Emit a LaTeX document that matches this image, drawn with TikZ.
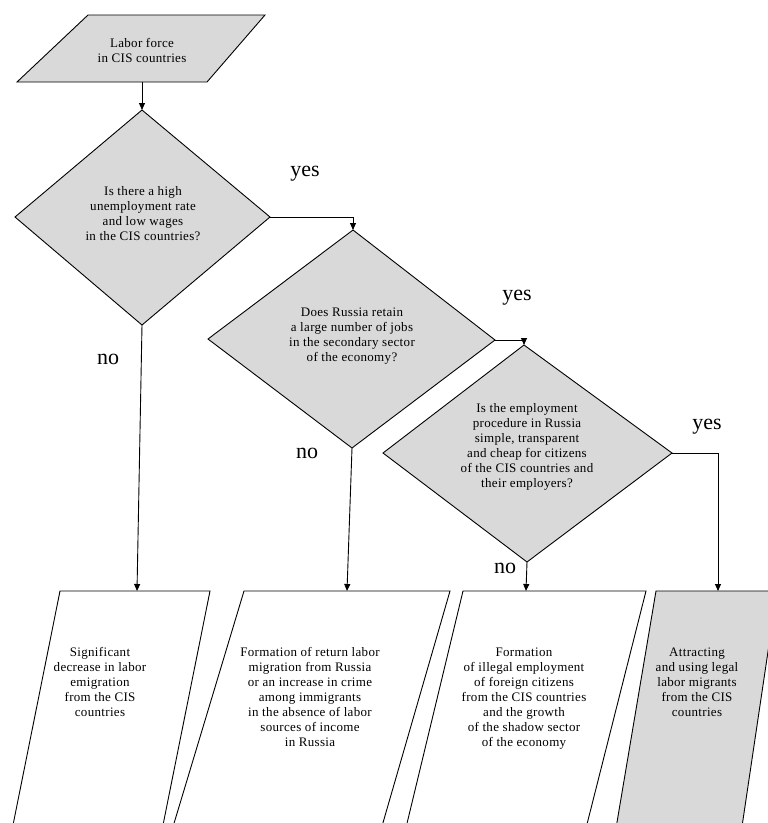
\documentclass[tikz,border=0pt]{standalone}
\usepackage{xcolor}
\usepackage{fontspec}
\setmainfont{Liberation Serif}
\newfontfamily\boxfont[LetterSpace=2.5]{Liberation Serif}
\usetikzlibrary{arrows.meta}
\definecolor{shapegray}{RGB}{217,217,217}

\begin{document}
\begin{tikzpicture}[x=1pt,y=-1pt,line width=0.9pt,
  txt/.style={align=center,inner sep=0pt,font=\boxfont\fontsize{13}{15}\selectfont},
  answer/.style={inner sep=0pt,font=\fontsize{22}{24}\selectfont},
  flow/.style={-{Triangle[length=7pt,width=6pt]}}]
          \useasboundingbox (0,0) rectangle (768,823);
          \clip (0,0) rectangle (768,823);

          % start block
          \coordinate (Lt) at (88,15);
          \coordinate (Rt) at (265,15);
          \coordinate (Rb) at (207,82);
          \coordinate (Lb) at (17,82);
          \coordinate (out0) at (142,82);
          \draw[fill=shapegray] (Lt) -- (Rt) -- (Rb) -- (Lb) -- cycle;
          \node[txt] (labor) at (142,50) {Labor force\\in CIS countries};

          % decisions
          \coordinate (D1t) at (142,110);
          \coordinate (D1l) at (15,217);
          \coordinate (D1r) at (270,217);
          \coordinate (D1b) at (142,325);
          \draw[fill=shapegray] (D1t) -- (D1r) -- (D1b) -- (D1l) -- cycle;
          \node[txt] (unempl) at (143,214) {Is there a high\\unemployment rate\\and low wages\\in the CIS countries?};

          \coordinate (D2t) at (353,230);
          \coordinate (D2l) at (208,339);
          \coordinate (D2r) at (495,340);
          \coordinate (D2b) at (352,448);
          \draw[fill=shapegray] (D2t) -- (D2r) -- (D2b) -- (D2l) -- cycle;
          \node[txt] (jobs) at (352,336) {Does Russia retain\\a large number of jobs\\in the secondary sector\\of the economy?};

          \coordinate (D3t) at (524,345);
          \coordinate (D3l) at (383,453);
          \coordinate (D3r) at (672,453);
          \coordinate (D3b) at (527,562);
          \draw[fill=shapegray] (D3t) -- (D3r) -- (D3b) -- (D3l) -- cycle;
          \node[txt] (procedure) at (527,447) {Is the employment\\procedure in Russia\\simple, transparent\\and cheap for citizens\\of the CIS countries and\\their employers?};

          % outcomes
          \draw (60,591) -- (210,591) -- (160,840) -- (10,840) -- cycle;
          \draw (244,591) -- (450,591) -- (378,840) -- (169,840) -- cycle;
          \draw (463,591) -- (646,591) -- (583,840) -- (403,840) -- cycle;
          \draw[fill=shapegray] (656,591) -- (777,591) -- (740,840) -- (614,840) -- cycle;
          \coordinate (in1) at (137,591);
          \coordinate (in2) at (347,591);
          \coordinate (in3) at (526,591);
          \coordinate (in4) at (718,591);
          \node[txt,anchor=north] (decrease) at (100,647) {Significant\\decrease in labor\\emigration\\from the CIS\\countries};
          \node[txt,anchor=north] (returnmig) at (310,647) {Formation of return labor\\migration from Russia\\or an increase in crime\\among immigrants\\in the absence of labor\\sources of income\\in Russia};
          \node[txt,anchor=north] (illegal) at (524,647) {Formation\\of illegal employment\\of foreign citizens\\from the CIS countries\\and the growth\\of the shadow sector\\of the economy};
          \node[txt,anchor=north] (legal) at (697,647) {Attracting\\and using legal\\labor migrants\\from the CIS\\countries};

          % connectors
          \draw[flow] (out0) -- (D1t);
          \draw[flow] (D1r) -| (D2t);
          \draw[flow] (D2r) -| (D3t);
          \draw[flow] (D3r) -| (in4);
          \draw[flow] (D1b) -- (in1);
          \draw[flow] (D2b) -- (in2);
          \draw[flow] (D3b) -- (in3);

          \node[answer] (yes1) at (305,174) {yes};
          \node[answer] (no1) at (108,359) {no};
          \node[answer] (yes2) at (517,298) {yes};
          \node[answer] (no2) at (307,453) {no};
          \node[answer] (yes3) at (707,427) {yes};
          \node[answer] (no3) at (505,568) {no};

          \end{tikzpicture}
\end{document}
